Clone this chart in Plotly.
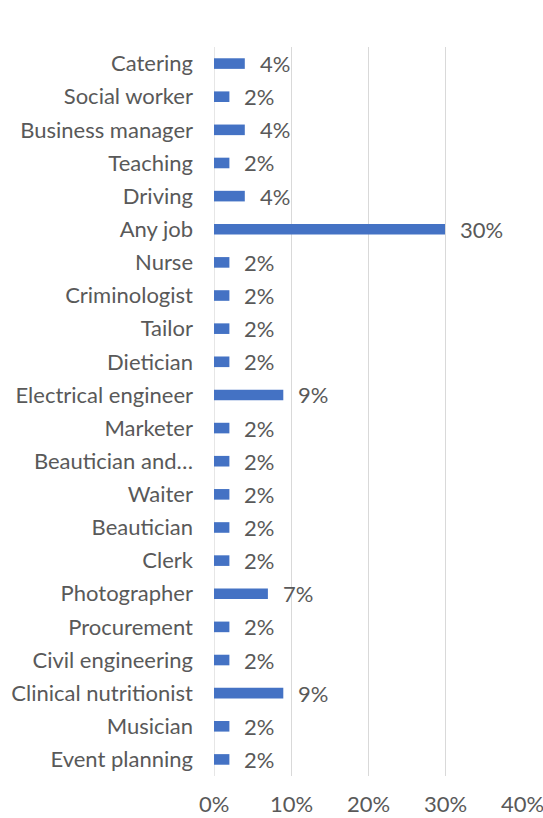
import plotly.graph_objects as go

# Occupations, listed top to bottom as shown on the chart
occupations = [
    "Catering", "Social worker", "Business manager", "Teaching", "Driving",
    "Any job", "Nurse", "Criminologist", "Tailor", "Dietician",
    "Electrical engineer", "Marketer", "Beautician and…", "Waiter",
    "Beautician", "Clerk", "Photographer", "Procurement",
    "Civil engineering", "Clinical nutritionist", "Musician", "Event planning",
]
# Share of respondents (%)
shares = [4, 2, 4, 2, 4, 30, 2, 2, 2, 2, 9, 2, 2, 2, 2, 2, 7, 2, 2, 9, 2, 2]
x_ticks = [0, 10, 20, 30, 40]
x_tick_labels = ["0%", "10%", "20%", "30%", "40%"]

FONT = "Lato, 'Open Sans', sans-serif"
SIZE = 22
TEXT = "#595959"

fig = go.Figure(go.Bar(
    x=shares, y=occupations, orientation="h",
    marker=dict(color="#4472C4", line=dict(width=0)),
    width=0.32,
    hoverinfo="x+y",
))

# value labels just past the end of each bar
for occ, val in zip(occupations, shares):
    fig.add_annotation(
        x=val, y=occ, text=f"{val}%", showarrow=False,
        xanchor="left", yanchor="middle", xshift=13,
        font=dict(family=FONT, size=SIZE, color=TEXT),
    )

# x tick labels as annotations so the last one is not dropped at the edge
for tv, tl in zip(x_ticks, x_tick_labels):
    fig.add_annotation(
        x=tv, xref="x", y=0, yref="paper", text=tl, showarrow=False,
        xanchor="center", yanchor="middle", yshift=-27, borderpad=0,
        font=dict(family=FONT, size=SIZE, color=TEXT),
    )

fig.update_layout(
    width=543, height=818,
    margin=dict(l=214, r=21, t=47, b=42),
    paper_bgcolor="white", plot_bgcolor="white",
    font=dict(family=FONT, size=SIZE, color=TEXT),
    showlegend=False,
    xaxis=dict(
        range=[0, 40], tickvals=x_ticks, showticklabels=False,
        showgrid=True, gridcolor="#D9D9D9", gridwidth=1.3,
        zeroline=False, showline=False, ticks="", automargin=False,
    ),
    yaxis=dict(
        categoryorder="array", categoryarray=occupations[::-1],
        showgrid=False, zeroline=False, showline=False, ticks="",
        ticklabelstandoff=20, automargin=False,
        tickfont=dict(family=FONT, size=SIZE, color=TEXT),
    ),
)
fig.add_shape(type="line", xref="x", yref="paper", x0=0, x1=0, y0=0, y1=1,
              line=dict(color="#D9D9D9", width=1.3), layer="below")

fig.write_html("out.html")
